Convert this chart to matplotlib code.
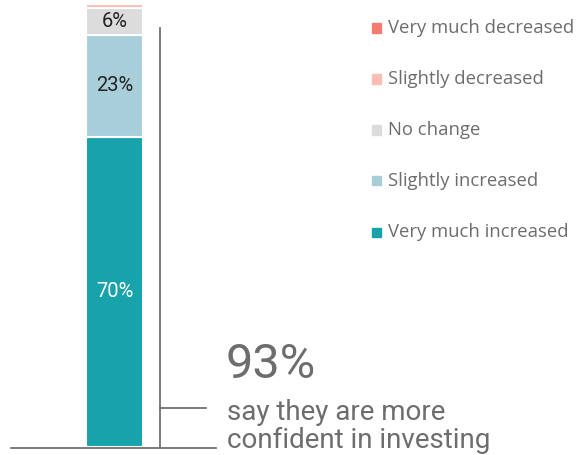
import matplotlib.pyplot as plt
from matplotlib.patches import Rectangle
from matplotlib.lines import Line2D

categories = ["Very much increased", "Slightly increased", "No change",
              "Slightly decreased", "Very much decreased"]
values = [70, 23, 6, 1, 0]
colors = ["#18a2ac", "#a8cfd9", "#dcdcdc", "#fcbdb6", "#f47b6f"]
label_colors = ["white", "#222222", "#222222", None, None]
headline = "93%"
caption_lines = ["say they are more", "confident in investing"]

W, H = 579, 455
fig = plt.figure(figsize=(W / 100, H / 100), dpi=100)

# axes: x in pixels, y in percent (0..100 spans bar height)
ax = fig.add_axes([0, 8 / H, 1, 443 / H])
ax.set_xlim(0, W)
ax.set_ylim(0, 100)
ax.axis("off")

bar_x, bar_w = 114.5, 57
bottom = 0
for v, c, lc in zip(values, colors, label_colors):
    if v > 0:
        ax.bar(bar_x, v, bottom=bottom, width=bar_w, color=c,
               edgecolor="white", linewidth=1.5, zorder=2)
        if lc is not None:
            ax.text(bar_x, bottom + v / 2, f"{v}%", ha="center", va="center",
                    color=lc, fontsize=14.5, family="Roboto", zorder=3)
    bottom += v

# bracket and baseline drawn in figure pixel space
def fx(x):
    return x / W

def fy(y):
    return 1 - y / H

line_c = "#666666"
fig.add_artist(Line2D([fx(160), fx(160)], [fy(28), fy(447)], color=line_c, lw=1.2))
fig.add_artist(Line2D([fx(160), fx(206)], [fy(408), fy(408)], color=line_c, lw=1.2))
fig.add_artist(Line2D([fx(11), fx(216)], [fy(448), fy(448)], color=line_c, lw=1.2))

fig.text(fx(226), fy(378), headline, fontsize=35, color="#6d6d6d",
         family="Roboto", ha="left", va="baseline")
for line, base in zip(caption_lines, [420, 448]):
    fig.text(fx(227), fy(base), line, fontsize=20, color="#6d6d6d",
             family="Roboto", ha="left", va="baseline")

# legend, top-down from decreased to increased
leg_y = [28, 79, 130, 181, 232]
for (cat, c), y in zip(list(zip(categories, colors))[::-1], leg_y):
    fig.patches.append(Rectangle((fx(372), fy(y) - 4.5 / H), 9 / W, 9 / H,
                                 transform=fig.transFigure, color=c))
    fig.text(fx(388), fy(y), cat, fontsize=13.3, color="#6d6d6d",
             family="Open Sans", ha="left", va="center")

fig.savefig("out.png", dpi=100)
